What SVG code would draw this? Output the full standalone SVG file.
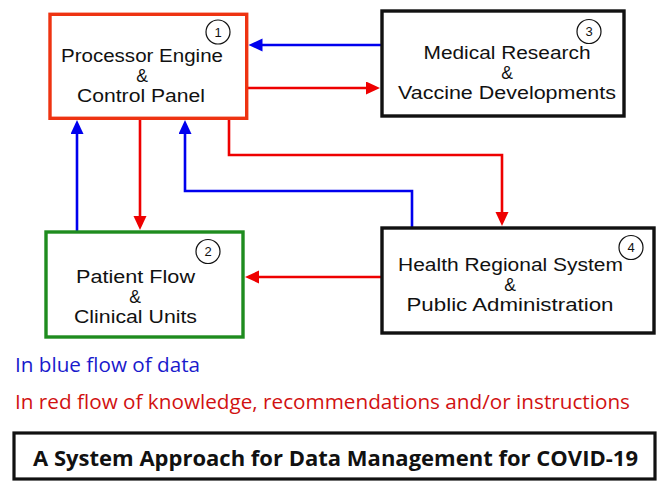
<svg xmlns="http://www.w3.org/2000/svg" width="657" height="481" viewBox="0 0 657 481">
<style>
.box{fill:#fff;stroke-width:3.4}
.t{font-family:"Liberation Sans",Arial,sans-serif;font-size:17.5px;fill:#111;text-anchor:middle}
.n{font-family:"Liberation Sans",Arial,sans-serif;font-size:13px;fill:#111;text-anchor:middle}
.c{fill:#fff;stroke:#111;stroke-width:1.2}
.b{fill:none;stroke:#0000ee;stroke-width:2.6}
.r{fill:none;stroke:#ee0000;stroke-width:2.6}
.leg{font-family:"Open Sans","Liberation Sans",sans-serif;font-size:19.5px}
</style>
<defs>
<marker id="ab" markerUnits="userSpaceOnUse" markerWidth="16" markerHeight="14" refX="3" refY="6.5" orient="auto"><path d="M0,0 L14,6.5 L0,13 Z" fill="#0000ee"/></marker>
<marker id="ar" markerUnits="userSpaceOnUse" markerWidth="16" markerHeight="14" refX="3" refY="6.5" orient="auto"><path d="M0,0 L14,6.5 L0,13 Z" fill="#ee0000"/></marker>
</defs>
<rect width="657" height="481" fill="#fff"/>
<g id="connectors">
<path class="b" d="M382,45 H259.5" marker-end="url(#ab)"/>
<path class="r" d="M248,88 H369" marker-end="url(#ar)"/>
<path class="r" d="M229,119 V155 H502 V215" marker-end="url(#ar)"/>
<path class="b" d="M412,227 V191 H185 V131" marker-end="url(#ab)"/>
<path class="b" d="M77,231 V131" marker-end="url(#ab)"/>
<path class="r" d="M140,119 V219" marker-end="url(#ar)"/>
<path class="r" d="M381,277 H256" marker-end="url(#ar)"/>
</g>
<g id="node1">
<rect class="box" x="50" y="14.3" width="196.7" height="104" stroke="#ee3311"/>
<circle class="c" cx="218" cy="32" r="12"/>
<text class="n" x="218" y="36.5">1</text>
<text class="t" x="142" y="61.5" textLength="162" lengthAdjust="spacingAndGlyphs">Processor Engine</text>
<text class="t" x="142" y="81.5">&amp;</text>
<text class="t" x="141" y="101.5" textLength="128" lengthAdjust="spacingAndGlyphs">Control Panel</text>
</g>
<g id="node3">
<rect class="box" x="382" y="11" width="242" height="105" stroke="#111"/>
<circle class="c" cx="589" cy="31.5" r="12"/>
<text class="n" x="589" y="36">3</text>
<text class="t" x="507" y="58.5" textLength="167" lengthAdjust="spacingAndGlyphs">Medical Research</text>
<text class="t" x="507" y="78.5">&amp;</text>
<text class="t" x="507" y="98.5" textLength="218" lengthAdjust="spacingAndGlyphs">Vaccine Developments</text>
</g>
<g id="node2">
<rect class="box" x="46" y="232" width="197" height="105" stroke="#1e8c1e"/>
<circle class="c" cx="208" cy="251.5" r="12"/>
<text class="n" x="208" y="256">2</text>
<text class="t" x="135.5" y="282.5" textLength="119" lengthAdjust="spacingAndGlyphs">Patient Flow</text>
<text class="t" x="135" y="302.5">&amp;</text>
<text class="t" x="135.5" y="322.5" textLength="123" lengthAdjust="spacingAndGlyphs">Clinical Units</text>
</g>
<g id="node4">
<rect class="box" x="382" y="228" width="272" height="105" stroke="#111"/>
<circle class="c" cx="631" cy="247.5" r="12"/>
<text class="n" x="631" y="252">4</text>
<text class="t" x="510.5" y="271" textLength="225" lengthAdjust="spacingAndGlyphs">Health Regional System</text>
<text class="t" x="510" y="291">&amp;</text>
<text class="t" x="510" y="311" textLength="207" lengthAdjust="spacingAndGlyphs">Public Administration</text>
</g>
<g id="legend">
<text class="leg" x="15" y="372" fill="#1a1acc" textLength="185" lengthAdjust="spacingAndGlyphs">In blue flow of data</text>
<text class="leg" x="15" y="409" fill="#d11111" textLength="615" lengthAdjust="spacingAndGlyphs">In red flow of knowledge, recommendations and/or instructions</text>
</g>
<g id="title">
<rect x="14" y="433" width="641" height="46" fill="#fff" stroke="#111" stroke-width="3.2"/>
<text x="335.5" y="466" font-family="'Open Sans','Liberation Sans',sans-serif" font-size="22" font-weight="bold" fill="#111" text-anchor="middle" textLength="605" lengthAdjust="spacingAndGlyphs">A System Approach for Data Management for COVID-19</text>
</g>
</svg>
